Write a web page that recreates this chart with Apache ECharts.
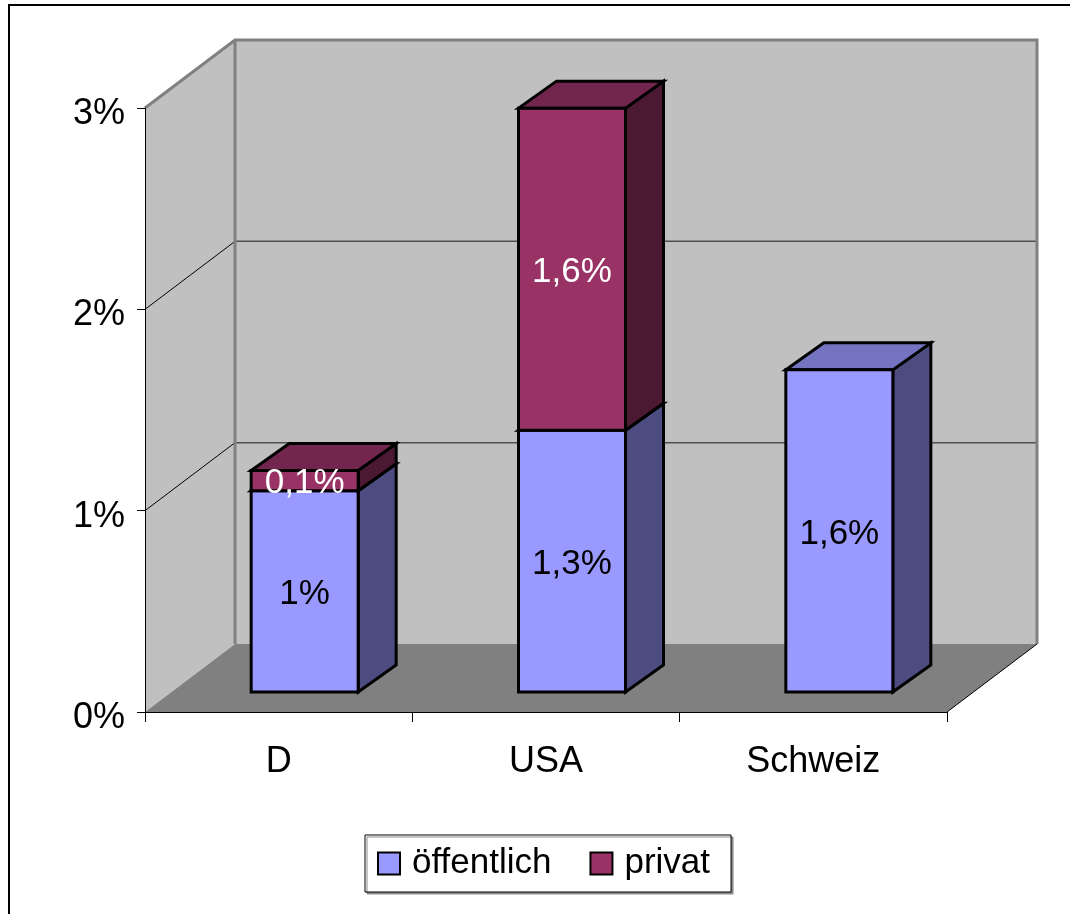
<!DOCTYPE html>
<html>
<head>
<meta charset="utf-8">
<script src="https://cdn.jsdelivr.net/npm/echarts@6/dist/echarts.min.js"></script>
<style>
  html, body { margin: 0; padding: 0; background: #fff; }
  #chart { width: 1070px; height: 914px; }
</style>
</head>
<body>
<div id="chart"></div>
<script>
// Bildungsausgaben in % des BIP, öffentlich und privat
const categories = ['D', 'USA', 'Schweiz'];
const oeffentlich = [1.0, 1.3, 1.6];
const privat = [0.1, 1.6, 0];
const gridValues = [1, 2, 3];

const FONT = '"Liberation Sans", Arial, sans-serif';

// oblique projection of the plot box and of each column
const WALL_DX = 90, WALL_DY = -68;     // depth of the whole box
const BAR_OFF_X = 26, BAR_OFF_Y = -20; // front face of the columns
const BAR_DX = 38, BAR_DY = -27;       // depth of a column
const BAR_W = 107;

const palette = {
  'öffentlich': { front: '#9999FF', side: '#4C4C80', top: '#7373BF', text: '#000' },
  'privat':     { front: '#993366', side: '#4C1933', top: '#73264D', text: '#fff' }
};

function fmt(v) {
  return String(Math.round(v * 10) / 10).replace('.', ',') + '%';
}

function renderWalls(params, api) {
  const cs = params.coordSys;
  const x0 = cs.x, x1 = cs.x + cs.width;
  const yTop = api.coord([0, 3])[1];
  const yBot = api.coord([0, 0])[1];
  const bx0 = x0 + WALL_DX, bx1 = x1 + WALL_DX;
  const byT = yTop + WALL_DY, byB = yBot + WALL_DY;
  const children = [
    { type: 'polygon', shape: { points: [[bx0, byT], [bx1, byT], [bx1, byB], [bx0, byB]] },
      style: { fill: '#C0C0C0' } },
    { type: 'polygon', shape: { points: [[x0, yTop], [bx0, byT], [bx0, byB], [x0, yBot]] },
      style: { fill: '#C0C0C0' } },
    { type: 'polygon', shape: { points: [[x0, yBot], [x1, yBot], [bx1, byB], [bx0, byB]] },
      style: { fill: '#808080' } }
  ];
  gridValues.forEach(function (v) {
    const y = api.coord([0, v])[1];
    if (v < 3) {
      children.push({ type: 'line', shape: { x1: bx0, y1: y + WALL_DY, x2: bx1, y2: y + WALL_DY },
        style: { stroke: '#505050', lineWidth: 1.5 } });
    }
    children.push({ type: 'line', shape: { x1: x0, y1: y, x2: bx0, y2: y + WALL_DY },
      style: { stroke: '#000', lineWidth: 1 } });
  });
  // outline of the back and side walls
  children.push({ type: 'polyline',
    shape: { points: [[x0, yTop], [bx0, byT], [bx1, byT], [bx1, byB]] },
    style: { stroke: '#808080', lineWidth: 3, fill: null } });
  children.push({ type: 'line', shape: { x1: bx0, y1: byT, x2: bx0, y2: byB },
    style: { stroke: '#808080', lineWidth: 3 } });
  // right edge of the floor
  children.push({ type: 'line', shape: { x1: x1, y1: yBot, x2: bx1, y2: byB },
    style: { stroke: '#000', lineWidth: 1 } });
  return { type: 'group', children: children };
}

function renderColumn(params, api) {
  const idx = api.value(0);
  const top = api.value(1);
  const base = api.value(2);
  const seg = api.value(3);
  if (!seg) return null;
  const col = palette[params.seriesName];
  const pT = api.coord([idx, top]);
  const pB = api.coord([idx, base]);
  const cx = pT[0] + BAR_OFF_X;
  const yT = pT[1] + BAR_OFF_Y;
  const yB = pB[1] + BAR_OFF_Y;
  const x0 = cx - BAR_W / 2, x1 = cx + BAR_W / 2;
  const edge = { stroke: '#000', lineWidth: 3, lineJoin: 'miter' };
  return {
    type: 'group',
    children: [
      { type: 'polygon',
        shape: { points: [[x1, yB], [x1 + BAR_DX, yB + BAR_DY], [x1 + BAR_DX, yT + BAR_DY], [x1, yT]] },
        style: Object.assign({ fill: col.side }, edge) },
      { type: 'polygon',
        shape: { points: [[x0, yT], [x1, yT], [x1 + BAR_DX, yT + BAR_DY], [x0 + BAR_DX, yT + BAR_DY]] },
        style: Object.assign({ fill: col.top }, edge) },
      { type: 'rect', shape: { x: x0, y: yT, width: BAR_W, height: yB - yT },
        style: Object.assign({ fill: col.front }, edge) },
      { type: 'text', x: cx, y: (yT + yB) / 2 + 3,
        style: { text: fmt(seg), fill: col.text, font: '35px ' + FONT,
                 align: 'center', verticalAlign: 'middle' } }
    ]
  };
}

const dataOeff = categories.map(function (c, i) { return [i, oeffentlich[i], 0, oeffentlich[i]]; });
const dataPriv = categories.map(function (c, i) {
  return [i, oeffentlich[i] + privat[i], oeffentlich[i], privat[i]];
});

const chart = echarts.init(document.getElementById('chart'), null, { renderer: 'canvas' });
chart.setOption({
  backgroundColor: '#fff',
  animation: false,
  textStyle: { fontFamily: FONT },
  grid: { left: 145, right: 123, top: 108, bottom: 202 },
  graphic: [
    { type: 'rect', shape: { x: 9, y: 5, width: 1100, height: 950 },
      style: { fill: null, stroke: '#000', lineWidth: 2 }, z: 100 }
  ],
  legend: {
    data: ['öffentlich', 'privat'],
    left: 365, top: 835,
    orient: 'horizontal',
    padding: [11, 21, 11, 12],
    itemWidth: 22, itemHeight: 22, itemGap: 38,
    icon: 'rect',
    backgroundColor: '#fff',
    borderColor: '#000', borderWidth: 1,
    shadowColor: '#8c8c8c', shadowOffsetX: 2, shadowOffsetY: 2, shadowBlur: 0,
    itemStyle: { borderColor: '#000', borderWidth: 2 },
    textStyle: { fontSize: 35, color: '#000', fontFamily: FONT, padding: [0, 0, 0, 7] }
  },
  xAxis: {
    type: 'category',
    data: categories,
    axisLine: { show: true, lineStyle: { color: '#000', width: 1 } },
    axisTick: { show: true, length: 10, lineStyle: { color: '#000' } },
    axisLabel: { fontSize: 36, color: '#000', margin: 32, fontFamily: FONT },
    splitLine: { show: false },
    z: 10
  },
  yAxis: {
    type: 'value',
    min: 0, max: 3, interval: 1,
    axisLine: { show: true, lineStyle: { color: '#000', width: 1 } },
    axisTick: { show: true, length: 8, lineStyle: { color: '#000' } },
    axisLabel: { fontSize: 36, color: '#000', margin: 20, fontFamily: FONT,
                 lineHeight: 36, verticalAlign: 'top', padding: [-12, 0, 0, 0],
                 formatter: function (v) { return v + '%'; } },
    splitLine: { show: false },
    z: 10
  },
  series: [
    { type: 'custom', name: 'Wände', renderItem: renderWalls, data: [[0, 0]], z: 1, silent: true },
    { type: 'custom', name: 'öffentlich', renderItem: renderColumn, data: dataOeff, z: 2,
      itemStyle: { color: '#9999FF' } },
    { type: 'custom', name: 'privat', renderItem: renderColumn, data: dataPriv, z: 3,
      itemStyle: { color: '#993366' } }
  ]
});
</script>
</body>
</html>
